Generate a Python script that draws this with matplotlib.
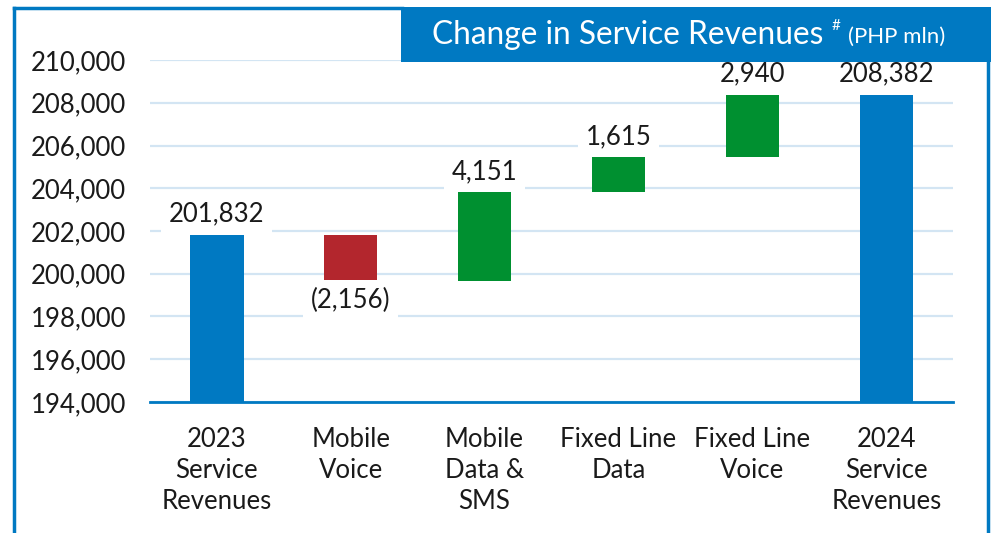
import numpy as np
import matplotlib.pyplot as plt
from matplotlib.patches import Rectangle
from matplotlib.lines import Line2D

categories = ["2023\nService\nRevenues", "Mobile\nVoice", "Mobile\nData &\nSMS",
              "Fixed Line\nData", "Fixed Line\nVoice", "2024\nService\nRevenues"]
changes = [201832, -2156, 4151, 1615, 2940, 208382]
is_total = [True, False, False, False, False, True]
value_labels = ["201,832", "(2,156)", "4,151", "1,615", "2,940", "208,382"]
yticks = [194000, 196000, 198000, 200000, 202000, 204000, 206000, 208000, 210000]

BLUE = "#0079C2"
RED = "#B3262D"
GREEN = "#009030"
GRID = "#D3E5F3"
TXT = "#1A1A1A"

plt.rcParams['font.family'] = ['Lato', 'DejaVu Sans']

fig = plt.figure(figsize=(9.92, 5.33), dpi=100)
ax = fig.add_axes([0.151, 0.2458, 0.810, 0.6416])

# running totals for the waterfall
bottoms = []
heights = []
colors = []
running = 0
for val, tot in zip(changes, is_total):
    if tot:
        bottoms.append(194000)
        heights.append(val - 194000)
        colors.append(BLUE)
        running = val
    else:
        if val < 0:
            bottoms.append(running + val)
            colors.append(RED)
        else:
            bottoms.append(running)
            colors.append(GREEN)
        heights.append(abs(val))
        running += val

x = np.arange(len(categories))
ax.bar(x, heights, bottom=bottoms, width=0.4, color=colors, zorder=3)

for i, lab in enumerate(value_labels):
    if changes[i] < 0:
        ypos = bottoms[i] - 330
        va = "top"
    else:
        ypos = bottoms[i] + heights[i] + 380
        va = "bottom"
    ax.text(x[i], ypos, lab, ha="center", va=va, fontsize=18.5, color=TXT,
            zorder=4, clip_on=False,
            bbox=dict(boxstyle="square,pad=0.3", fc="white", ec="none"))

ax.set_xlim(-0.5, 5.5)
ax.set_ylim(194000, 210000)
ax.set_yticks(yticks)
ax.set_yticklabels([f"{t:,}" for t in yticks])
ax.set_xticks(x)
ax.set_xticklabels(categories, linespacing=1.3, va="top")
ax.tick_params(axis="both", length=0, labelsize=18.5, colors=TXT)
ax.tick_params(axis="y", pad=17)
ax.tick_params(axis="x", pad=18)
ax.yaxis.grid(True, color=GRID, linewidth=1.6, zorder=0)
ax.set_axisbelow(True)
for s in ["top", "right", "left"]:
    ax.spines[s].set_visible(False)
ax.spines["bottom"].set_color(BLUE)
ax.spines["bottom"].set_linewidth(2)
ax.spines["bottom"].set_zorder(5)

# outer frame lines
fig.add_artist(Line2D([14 / 992, 14 / 992], [0, 1 - 8 / 533], color=BLUE, lw=2.5,
                      transform=fig.transFigure))
fig.add_artist(Line2D([14 / 992, 402 / 992], [1 - 8 / 533, 1 - 8 / 533], color=BLUE,
                      lw=2.5, transform=fig.transFigure))
fig.add_artist(Line2D([988 / 992, 988 / 992], [0, 1 - 62 / 533], color=BLUE, lw=2.5,
                      transform=fig.transFigure))

# title box
fig.add_artist(Rectangle((401 / 992, 1 - 62 / 533), 590 / 992, 55 / 533,
                         facecolor=BLUE, edgecolor="none", transform=fig.transFigure))
fig.text(432 / 992, 1 - 35 / 533, "Change in Service Revenues",
         color="white", fontsize=22.8, va="center", ha="left")
fig.text(832 / 992, 1 - 26 / 533, "#", color="white", fontsize=11,
         va="center", ha="left")
fig.text(848 / 992, 1 - 37 / 533, "(PHP mln)", color="white", fontsize=16,
         va="center", ha="left")

fig.savefig("out.png", dpi=100)
